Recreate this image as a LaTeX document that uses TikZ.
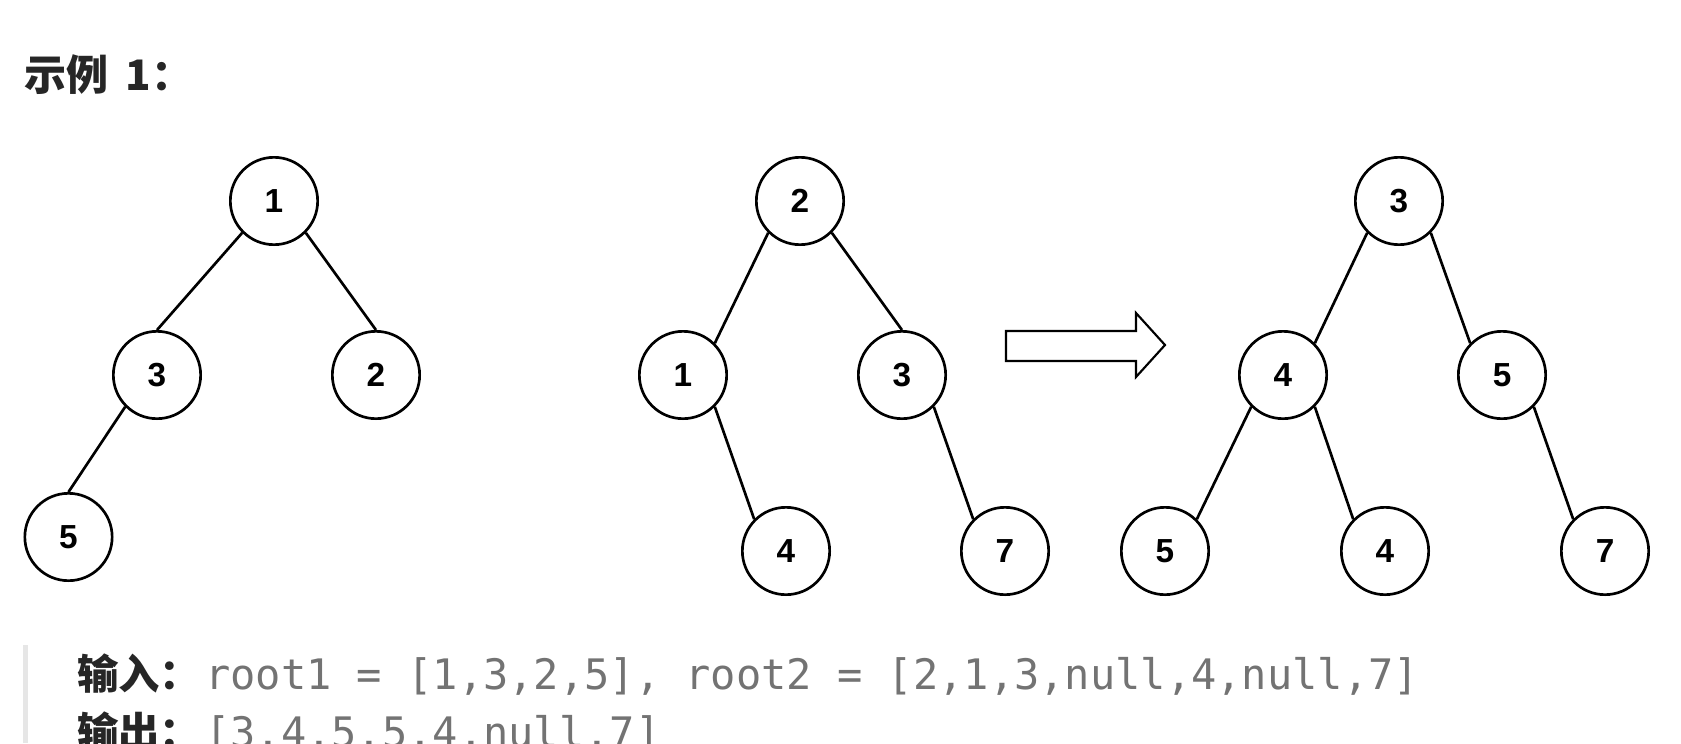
\documentclass[tikz,border=0pt]{standalone}
\usepackage{fontspec}
\newfontfamily\cjkfont{Noto Sans CJK SC}
\newfontfamily\numfont{Liberation Sans}
\newfontfamily\codefont{DejaVu Sans Mono}
\definecolor{headgray}{HTML}{262626}
\definecolor{codegray}{HTML}{737373}
\definecolor{bargray}{HTML}{E6E6E6}
\tikzset{
  treenode/.style={draw, circle, line width=2pt, minimum size=65.5pt, inner sep=0pt,
    font=\numfont\bfseries\fontsize{25pt}{30pt}\selectfont},
  treeedge/.style={line width=2pt},
  cjktext/.style={anchor=base west, inner sep=0pt, text=headgray,
    font=\cjkfont\bfseries\fontsize{31pt}{36pt}\selectfont},
  codetext/.style={anchor=base west, inner sep=0pt, text=codegray,
    font=\codefont\fontsize{31.5pt}{36pt}\selectfont},
}
\begin{document}
\begin{tikzpicture}[x=0.75pt,y=-0.75pt]
\useasboundingbox (0,0) rectangle (1681,743);
\fill[white] (0,0) rectangle (1681,743);
\node[cjktext, font=\cjkfont\bfseries\fontsize{31.5pt}{36pt}\selectfont] (title) at (24,90) {示例\hspace{13pt}1：};
\node[treenode] (a1) at (274,201) {1};
\node[treenode] (a3) at (157,375) {3};
\node[treenode] (a2) at (376,375) {2};
\node[treenode] (a5) at (68.5,537) {5};
\draw[treeedge] (a1.-135) -- (a3.north);
\draw[treeedge] (a1.-45) -- (a2.north);
\draw[treeedge] (a3.-135) -- (a5.north);
\node[treenode] (b2) at (800,201) {2};
\node[treenode] (b1) at (683,375) {1};
\node[treenode] (b3) at (902,375) {3};
\node[treenode] (b4) at (786,551) {4};
\node[treenode] (b7) at (1005,551) {7};
\draw[treeedge] (b2.-135) -- (b1.45);
\draw[treeedge] (b2.-45) -- (b3.north);
\draw[treeedge] (b1.-45) -- (b4.135);
\draw[treeedge] (b3.-45) -- (b7.135);
\draw[line width=1.6pt, miter limit=10] (1006,331) -- (1136,331) -- (1136,313) -- (1165,345)
  -- (1136,377) -- (1136,361) -- (1006,361) -- cycle;
\node[treenode] (c3) at (1399,201) {3};
\node[treenode] (c4) at (1283,375) {4};
\node[treenode] (c5) at (1502,375) {5};
\node[treenode] (c5b) at (1165,551) {5};
\node[treenode] (c4b) at (1385,551) {4};
\node[treenode] (c7) at (1605,551) {7};
\draw[treeedge] (c3.-135) -- (c4.45);
\draw[treeedge] (c3.-45) -- (c5.135);
\draw[treeedge] (c4.-135) -- (c5b.45);
\draw[treeedge] (c4.-45) -- (c4b.135);
\draw[treeedge] (c5.-45) -- (c7.135);
\fill[bargray] (23,645) rectangle (28,743);
\node[cjktext] (inlabel) at (77,689) {输入：};
\node[codetext] (incode) at (205,689) {root1 = [1,3,2,5], root2 = [2,1,3,null,4,null,7]};
\node[cjktext] (outlabel) at (77,747) {输出：};
\node[codetext] (outcode) at (205,747) {[3,4,5,5,4,null,7]};
\end{tikzpicture}
\end{document}
